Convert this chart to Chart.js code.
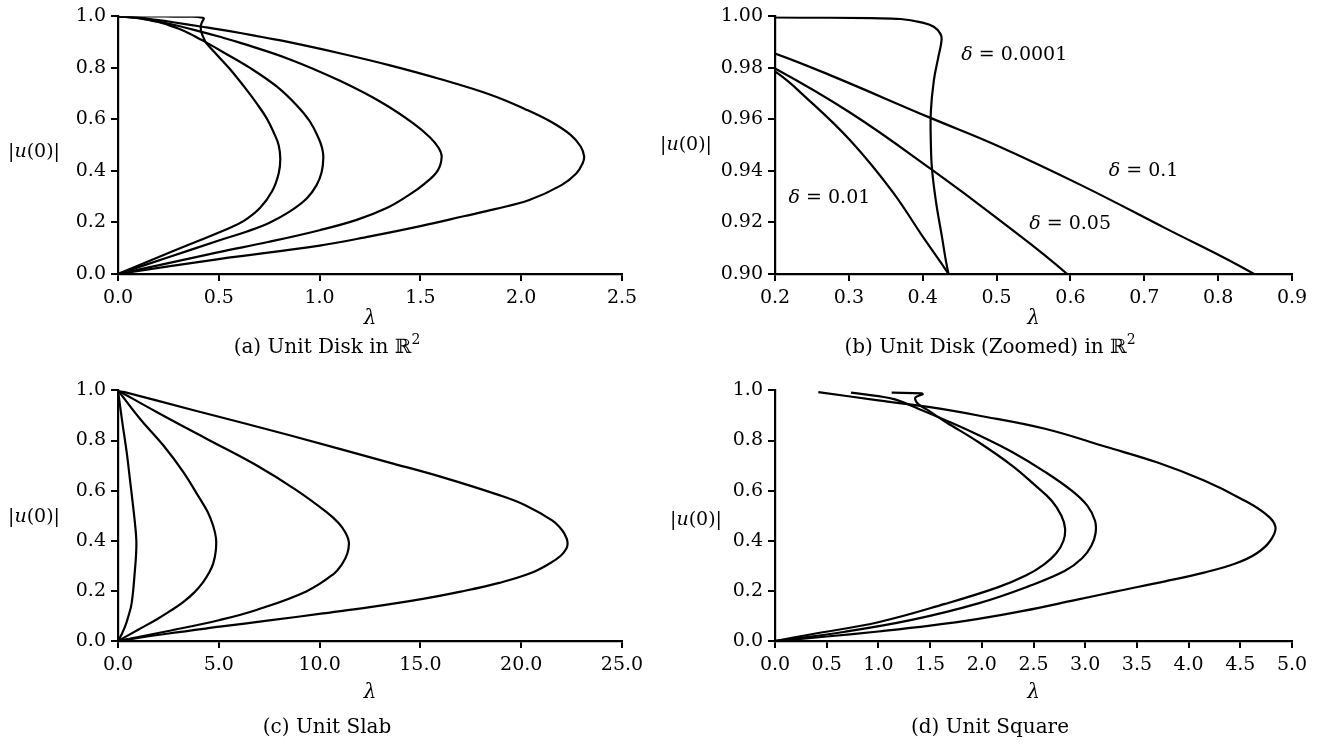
<!DOCTYPE html>
<html><head><meta charset="utf-8">
<script src="https://cdn.jsdelivr.net/npm/chart.js@4.4.1/dist/chart.umd.min.js"></script>
<style>
html,body{margin:0;padding:0;background:#fff;width:1319px;height:747px;overflow:hidden}
canvas{position:absolute;display:block}
</style></head><body>
<canvas id="cA" width="660" height="374" style="left:0;top:0"></canvas>
<canvas id="cB" width="659" height="374" style="left:660px;top:0"></canvas>
<canvas id="cC" width="660" height="373" style="left:0;top:374px"></canvas>
<canvas id="cD" width="659" height="373" style="left:660px;top:374px"></canvas>
<script>
// ---------- DATA ----------
// Unit disk (panels a and b share the same curves), delta = 0.0001, 0.01, 0.05, 0.1
const diskLam1 = [0, 0.1, 0.2, 0.274, 0.33, 0.37, 0.398, 0.415, 0.424, 0.4255, 0.421, 0.415, 0.411, 0.411, 0.4125, 0.418, 0.4255, 0.435, 0.448, 0.489, 0.556, 0.622, 0.688, 0.737, 0.775, 0.797, 0.805, 0.797, 0.765, 0.704, 0.622, 0.539, 0.274, 0];
const diskU1   = [1.0, 0.9997, 0.9996, 0.9995, 0.9993, 0.999, 0.9977, 0.996, 0.9932, 0.9907, 0.984, 0.975, 0.963, 0.951, 0.941, 0.928, 0.9154, 0.90, 0.887, 0.852, 0.795, 0.731, 0.662, 0.605, 0.545, 0.50, 0.446, 0.39, 0.322, 0.256, 0.205, 0.174, 0.089, 0];
const diskLam2 = [0, 0.05, 0.1, 0.15, 0.2, 0.245, 0.302, 0.359, 0.398, 0.435, 0.52, 0.655, 0.787, 0.886, 0.952, 0.994, 1.012, 1.0185, 1.010, 0.985, 0.936, 0.853, 0.754, 0.64, 0.5, 0.25, 0];
const diskU2   = [1.0, 0.998, 0.993, 0.986, 0.9786, 0.9677, 0.9518, 0.932, 0.9154, 0.90, 0.862, 0.800, 0.728, 0.655, 0.592, 0.529, 0.49, 0.4525, 0.395, 0.345, 0.293, 0.243, 0.20, 0.165, 0.13, 0.065, 0];
const diskLam3 = [0, 0.1, 0.2, 0.302, 0.41, 0.50, 0.5956, 0.853, 1.101, 1.31, 1.465, 1.548, 1.59, 1.6055, 1.585, 1.52, 1.44, 1.33, 1.184, 1.0, 0.75, 0.5, 0.25, 0];
const diskU3   = [1.0, 0.994, 0.9798, 0.9626, 0.941, 0.9218, 0.90, 0.833, 0.750, 0.665, 0.585, 0.53, 0.49, 0.455, 0.40, 0.35, 0.305, 0.255, 0.21, 0.17, 0.125, 0.085, 0.042, 0];
const diskLam4 = [0, 0.1, 0.2, 0.2737, 0.4097, 0.5004, 0.6137, 0.727, 0.8487, 1.1, 1.349, 1.597, 1.851, 2.02, 2.15, 2.245, 2.295, 2.312, 2.305, 2.273, 2.2, 2.04, 1.87, 1.715, 1.5, 1.25, 1.0, 0.5, 0];
const diskU4   = [1.0, 0.995, 0.9856, 0.9773, 0.9607, 0.9499, 0.9346, 0.918, 0.90, 0.857, 0.81, 0.757, 0.695, 0.64, 0.59, 0.54, 0.495, 0.457, 0.43, 0.39, 0.345, 0.287, 0.252, 0.224, 0.186, 0.146, 0.11, 0.058, 0];

// Unit slab (panel c)
const slabLam1 = [0, 0.2, 0.43, 0.627, 0.76, 0.86, 0.91, 0.90, 0.84, 0.676, 0.5, 0.347, 0.17, 0];
const slabU1   = [1.0, 0.88, 0.754, 0.621, 0.53, 0.455, 0.40, 0.35, 0.283, 0.15, 0.095, 0.057, 0.025, 0];
const slabLam2 = [0, 1.089, 2.244, 3.234, 4.059, 4.45, 4.72, 4.86, 4.85, 4.72, 4.5, 4.224, 3.8, 3.234, 2.5, 1.914, 1.0, 0];
const slabU2   = [1.0, 0.887, 0.781, 0.675, 0.568, 0.515, 0.46, 0.41, 0.36, 0.309, 0.27, 0.235, 0.195, 0.155, 0.115, 0.086, 0.045, 0];
const slabLam3 = [0, 1.914, 4.389, 6.865, 8.845, 10.33, 10.95, 11.3, 11.45, 11.38, 11.1, 10.66, 9.34, 6.865, 5.05, 2.5, 0];
const slabU3   = [1.0, 0.914, 0.807, 0.701, 0.602, 0.515, 0.47, 0.43, 0.395, 0.35, 0.305, 0.265, 0.198, 0.124, 0.084, 0.04, 0];
const slabLam4 = [0, 3.8, 8.515, 13.465, 16.03, 18.91, 20.25, 21.55, 22.05, 22.25, 22.3, 22.25, 21.96, 21.43, 20.45, 18.91, 17.0, 15.12, 12.5, 10.165, 7.5, 5.05, 2.5, 0];
const slabU4   = [1.0, 0.920, 0.821, 0.712, 0.655, 0.582, 0.54, 0.48, 0.44, 0.41, 0.39, 0.37, 0.34, 0.31, 0.27, 0.232, 0.197, 0.168, 0.135, 0.11, 0.082, 0.057, 0.03, 0];

// Unit square (panel d)
const sqLam1 = [1.128, 1.418, 1.428, 1.36, 1.364, 1.402, 1.467, 1.644, 1.966, 2.289, 2.514, 2.676, 2.77, 2.805, 2.79, 2.72, 2.6, 2.43, 2.16, 1.644, 0.999, 0.355, 0];
const sqU1   = [0.991, 0.988, 0.984, 0.973, 0.956, 0.940, 0.924, 0.876, 0.794, 0.701, 0.622, 0.56, 0.50, 0.45, 0.40, 0.35, 0.305, 0.262, 0.215, 0.148, 0.075, 0.027, 0];
const sqLam2 = [0.735, 0.999, 1.16, 1.386, 1.644, 1.966, 2.289, 2.611, 2.869, 3.02, 3.095, 3.1, 3.06, 2.97, 2.805, 2.45, 1.966, 1.322, 0.677, 0];
const sqU2   = [0.991, 0.977, 0.964, 0.927, 0.882, 0.822, 0.755, 0.675, 0.60, 0.54, 0.48, 0.43, 0.38, 0.33, 0.28, 0.218, 0.150, 0.084, 0.037, 0];
const sqLam3 = [0.419, 0.999, 1.483, 1.966, 2.611, 3.2, 3.7, 4.15, 4.52, 4.75, 4.84, 4.79, 4.66, 4.46, 4.15, 3.772, 3.3, 2.9, 2.4, 1.966, 1.5, 0.999, 0.5, 0];
const sqU3   = [0.9934, 0.960, 0.934, 0.900, 0.847, 0.775, 0.712, 0.64, 0.565, 0.505, 0.455, 0.40, 0.35, 0.31, 0.273, 0.238, 0.198, 0.163, 0.12, 0.088, 0.061, 0.038, 0.018, 0];

// Tick values
const xTicksA = [0, 0.5, 1.0, 1.5, 2.0, 2.5];
const yTicksA = [0, 0.2, 0.4, 0.6, 0.8, 1.0];
const xTicksB = [0.2, 0.3, 0.4, 0.5, 0.6, 0.7, 0.8, 0.9];
const yTicksB = [0.90, 0.92, 0.94, 0.96, 0.98, 1.00];
const xTicksC = [0, 5, 10, 15, 20, 25];
const yTicksC = [0, 0.2, 0.4, 0.6, 0.8, 1.0];
const xTicksD = [0, 0.5, 1.0, 1.5, 2.0, 2.5, 3.0, 3.5, 4.0, 4.5, 5.0];
const yTicksD = [0, 0.2, 0.4, 0.6, 0.8, 1.0];

// Curve labels in panel (b)
const noteText = ['0.0001', '0.1', '0.05', '0.01'];
const noteLam  = [0.524, 0.699, 0.5996, 0.2737];
const noteU    = [0.985, 0.940, 0.9195, 0.9295];

// ---------- DRAWING ----------
const SERIF = "'DejaVu Serif', 'Liberation Serif', serif";
const tickFont = {family: SERIF, size: 19};

function rich(ctx, parts, x, y, size, align) {
  const fonts = parts.map(p => (p.it ? 'italic ' : '') + Math.round(p.sup ? size * 0.7 : size) + 'px ' + SERIF);
  let w = 0;
  parts.forEach((p, i) => { ctx.font = fonts[i]; w += ctx.measureText(p.t).width; });
  let sx = align === 'center' ? x - w / 2 : (align === 'right' ? x - w : x);
  ctx.textBaseline = 'middle'; ctx.textAlign = 'left'; ctx.fillStyle = '#000';
  parts.forEach((p, i) => {
    ctx.font = fonts[i];
    ctx.fillText(p.t, sx, p.sup ? y - size * 0.38 : y);
    sx += ctx.measureText(p.t).width;
  });
}

function textPlugin(cfg) {
  return {
    id: 'txt',
    afterDraw(chart) {
      const ctx = chart.ctx, a = chart.chartArea;
      ctx.save();
      rich(ctx, [{t: '|'}, {t: 'u', it: true}, {t: '(0)|'}], cfg.ylabX, cfg.ylabY, 19, 'center');
      rich(ctx, [{t: 'λ', it: true}], (a.left + a.right) / 2, cfg.lamY, 20, 'center');
      rich(ctx, cfg.caption, cfg.capX, cfg.capY, 20, 'center');
      if (cfg.notes) {
        cfg.notes.text.forEach((s, i) => {
          const x = chart.scales.x.getPixelForValue(cfg.notes.lam[i]);
          const y = chart.scales.y.getPixelForValue(cfg.notes.u[i]);
          rich(ctx, [{t: 'δ', it: true}, {t: ' = ' + s}], x, y, 19, 'center');
        });
      }
      ctx.restore();
    }
  };
}

function axis(min, max, ticks, dec, isX, fixedSize, pad) {
  return {
    type: 'linear', min: min, max: max,
    afterBuildTicks: s => { s.ticks = ticks.map(v => ({value: v})); },
    afterFit: s => { if (isX) s.height = fixedSize; else s.width = fixedSize; },
    ticks: {callback: v => Number(v).toFixed(dec), font: tickFont, color: '#000', padding: pad, maxRotation: 0, autoSkip: false},
    grid: {display: true, drawOnChartArea: false, drawTicks: true, tickLength: 7, color: '#000', lineWidth: 2},
    border: {display: true, color: '#000', width: 2.2},
    title: {display: false}
  };
}

function build(id, cfg) {
  new Chart(document.getElementById(id), {
    type: 'scatter',
    data: {
      datasets: cfg.curves.map(c => ({
        data: c[0].map((l, i) => ({x: l, y: c[1][i]})),
        showLine: true, borderColor: '#000', borderWidth: 2.2,
        pointRadius: 0, pointHoverRadius: 0, tension: 0.4, fill: false, clip: 0
      }))
    },
    options: {
      responsive: false, animation: false, devicePixelRatio: 1, events: [],
      layout: {padding: {left: 0, top: cfg.top, right: cfg.right, bottom: cfg.bottom}},
      plugins: {legend: {display: false}, tooltip: {enabled: false}, title: {display: false}},
      scales: {
        x: axis(cfg.x[0], cfg.x[1], cfg.x[2], cfg.x[3], true, 40, 6),
        y: axis(cfg.y[0], cfg.y[1], cfg.y[2], cfg.y[3], false, cfg.yw, 5)
      }
    },
    plugins: [textPlugin(cfg)]
  });
}

const diskCurves = [[diskLam1, diskU1], [diskLam2, diskU2], [diskLam3, diskU3], [diskLam4, diskU4]];

build('cA', {
  curves: diskCurves, x: [0, 2.5, xTicksA, 1], y: [0, 1, yTicksA, 1],
  yw: 118, top: 11, right: 38, bottom: 60,
  ylabX: 34, ylabY: 152, lamY: 319, capX: 327, capY: 348,
  caption: [{t: '(a) Unit Disk in ℝ'}, {t: '2', sup: true}]
});
build('cB', {
  curves: diskCurves, x: [0.2, 0.9, xTicksB, 1], y: [0.9, 1.0, yTicksB, 2],
  yw: 115, top: 11, right: 27, bottom: 60,
  ylabX: 26, ylabY: 145, lamY: 319, capX: 330, capY: 348,
  caption: [{t: '(b) Unit Disk (Zoomed) in ℝ'}, {t: '2', sup: true}],
  notes: {text: noteText, lam: noteLam, u: noteU}
});
build('cC', {
  curves: [[slabLam1, slabU1], [slabLam2, slabU2], [slabLam3, slabU3], [slabLam4, slabU4]],
  x: [0, 25, xTicksC, 1], y: [0, 1, yTicksC, 1],
  yw: 118, top: 16, right: 38, bottom: 66,
  ylabX: 34, ylabY: 143, lamY: 319, capX: 327, capY: 354,
  caption: [{t: '(c) Unit Slab'}]
});
build('cD', {
  curves: [[sqLam1, sqU1], [sqLam2, sqU2], [sqLam3, sqU3]],
  x: [0, 5, xTicksD, 1], y: [0, 1, yTicksD, 1],
  yw: 115, top: 16, right: 27, bottom: 66,
  ylabX: 36, ylabY: 146, lamY: 319, capX: 330, capY: 354,
  caption: [{t: '(d) Unit Square'}]
});
</script>
</body></html>
